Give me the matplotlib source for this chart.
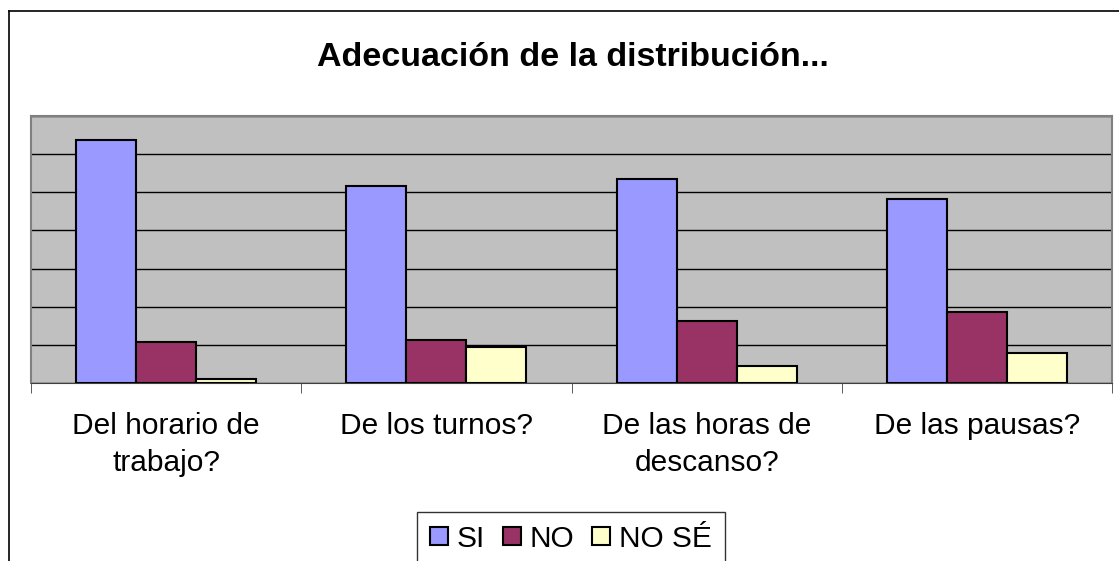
import numpy as np
import matplotlib.pyplot as plt
from matplotlib.lines import Line2D

plt.rcParams['font.family'] = ['Liberation Sans', 'DejaVu Sans']

# Datos
categorias = ['Del horario de\ntrabajo?', 'De los turnos?', 'De las horas de\ndescanso?', 'De las pausas?']
series = ['SI', 'NO', 'NO SÉ']
valores_si = [63.7, 51.7, 53.4, 48.2]
valores_no = [10.7, 11.2, 16.3, 18.7]
valores_nose = [1.0, 9.5, 4.4, 7.8]

colores = ['#9999FF', '#993366', '#FFFFCC']

# Configuracion de grafico
fig_w, fig_h = 1119, 561
fig_dpi = 100

fig = plt.figure(figsize=(fig_w / fig_dpi, fig_h / fig_dpi), dpi=fig_dpi, facecolor='w')

# marco exterior del grafico (estilo Excel)
fig.add_artist(Line2D([9 / fig_w, 9 / fig_w], [0, 1 - 11 / fig_h], color='k', lw=1.2))
fig.add_artist(Line2D([9 / fig_w, 1], [1 - 11 / fig_h, 1 - 11 / fig_h], color='k', lw=1.2))

ax = fig.add_axes([31 / fig_w, (fig_h - 383) / fig_h, (1112 - 31) / fig_w, (383 - 116) / fig_h])
ax.set_facecolor('#C0C0C0')

x = np.arange(len(categorias))
ancho = 0.2222
for k, (vals, nombre) in enumerate(zip([valores_si, valores_no, valores_nose], series)):
    ax.bar(x + (k - 1) * ancho, vals, ancho, color=colores[k], edgecolor='k',
           linewidth=1.5, label=nombre, zorder=3)

ax.set_xlim(-0.5, len(categorias) - 0.5)
ax.set_ylim(0, 70)
ax.set_yticks(np.arange(0, 71, 10))
ax.yaxis.grid(True, color='k', linewidth=1.0, zorder=0)
ax.tick_params(axis='y', length=0, labelleft=False)

ax.set_xticks(x)
ax.set_xticklabels(categorias, fontsize=21.5, linespacing=1.4)
ax.tick_params(axis='x', which='major', length=0, pad=21)
ax.set_xticks(np.arange(-0.5, len(categorias), 1), minor=True)
ax.tick_params(axis='x', which='minor', length=7, color='#404040', direction='out')

for lado in ['top', 'right', 'left']:
    ax.spines[lado].set_color('#808080')
    ax.spines[lado].set_linewidth(1.5)
ax.spines['bottom'].set_color('#404040')

fig.text(573 / fig_w, 1 - 58 / fig_h, 'Adecuación de la distribución...', ha='center',
         va='center', fontsize=24.5, fontweight='bold')

leg = fig.legend(loc='upper center', bbox_to_anchor=(571 / fig_w, 1 - 512 / fig_h), ncol=3,
                 fontsize=21.5, frameon=True, fancybox=False, edgecolor='k',
                 handlelength=0.6, handleheight=0.6, handletextpad=0.3, columnspacing=0.6,
                 borderpad=0.42, borderaxespad=0)
leg.get_frame().set_linewidth(1.0)

fig.savefig('out.png', dpi=fig_dpi)
